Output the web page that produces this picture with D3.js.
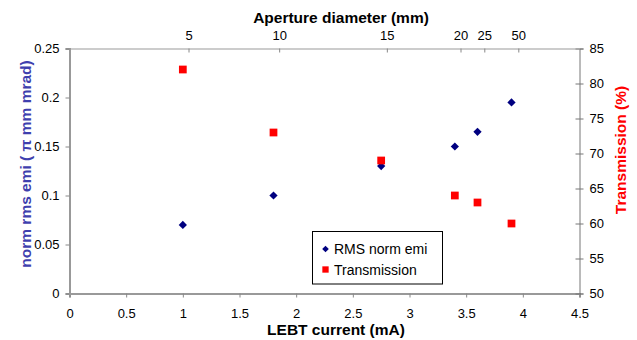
<!DOCTYPE html>
<html>
<head>
<meta charset="utf-8">
<script src="https://cdn.jsdelivr.net/npm/d3@7"></script>
<style>
  body { margin: 0; background: #fff; }
  svg { display: block; font-family: "Liberation Sans", Arial, sans-serif; }
  .tick text { font-size: 13px; fill: #000; }
</style>
</head>
<body>
<svg width="637" height="340"></svg>
<script>
// LEBT current (mA)
const current = [1, 1.8, 2.75, 3.4, 3.6, 3.9]
// norm rms emittance (pi mm mrad)
const emittance = [0.07, 0.1, 0.13, 0.15, 0.165, 0.195]
// transmission (%)
const transmission = [82, 73, 69, 64, 63, 60]
// top axis: aperture diameter labels and where they sit on the current axis
const apertureLabels = ["5", "10", "15", "20", "25", "50"]
const aperturePos = [1.05, 1.85, 2.8, 3.45, 3.66, 3.96]

const xTicks = [0, 0.5, 1, 1.5, 2, 2.5, 3, 3.5, 4, 4.5]
const yTicks = [0, 0.05, 0.1, 0.15, 0.2, 0.25]
const y2Ticks = [50, 55, 60, 65, 70, 75, 80, 85]

const svg = d3.select("svg")
const plotLeft = 69.5, plotRight = 579.5, plotTop = 48.5, plotBottom = 293.5

const x = d3.scaleLinear().domain([0, 4.5]).range([plotLeft, plotRight])
const y = d3.scaleLinear().domain([0, 0.25]).range([plotBottom, plotTop])
const y2 = d3.scaleLinear().domain([50, 85]).range([plotBottom, plotTop])

/* axes */
const gx = svg.append("g")
  .attr("transform", "translate(0," + plotBottom + ")")
  .call(d3.axisBottom(x).tickValues(xTicks).tickFormat(d3.format("")).tickSize(4).tickPadding(11))
gx.select(".domain").attr("stroke", "#999").attr("stroke-width", 2)
gx.selectAll(".tick line").attr("stroke", "#888")

const gy = svg.append("g")
  .attr("transform", "translate(" + plotLeft + ",0)")
  .call(d3.axisLeft(y).tickValues(yTicks).tickFormat(d3.format("")).tickSize(4).tickPadding(6))
gy.select(".domain").attr("stroke", "#999").attr("stroke-width", 2)
gy.selectAll(".tick line").attr("stroke", "#888")

const gy2 = svg.append("g")
  .attr("transform", "translate(" + plotRight + ",0)")
  .call(d3.axisRight(y2).tickValues(y2Ticks).tickSize(4).tickPadding(6))
gy2.select(".domain").attr("stroke", "#777")
gy2.selectAll(".tick line").attr("x1", -4).attr("x2", 4).attr("stroke", "#777")

const gt = svg.append("g")
  .attr("transform", "translate(0," + plotTop + ")")
  .call(d3.axisTop(x).tickValues(aperturePos)
    .tickFormat((d, i) => apertureLabels[i])
    .tickSizeInner(-4).tickSizeOuter(0).tickPadding(9))
gt.select(".domain").attr("stroke", "#999")
gt.selectAll(".tick line").attr("stroke", "#888")

/* titles */
svg.append("text")
  .attr("x", 341).attr("y", 23)
  .attr("text-anchor", "middle")
  .style("font-size", "15.5px").style("font-weight", "bold")
  .text("Aperture diameter (mm)")

svg.append("text")
  .attr("x", 336).attr("y", 335)
  .attr("text-anchor", "middle")
  .style("font-size", "15.5px").style("font-weight", "bold")
  .text("LEBT current (mA)")

svg.append("text")
  .attr("transform", "translate(31,164) rotate(-90)")
  .attr("text-anchor", "middle")
  .style("font-size", "15.5px").style("font-weight", "bold")
  .attr("fill", "#3f3fae")
  .text("norm rms emi ( π mm mrad)")

svg.append("text")
  .attr("transform", "translate(626,150) rotate(-90)")
  .attr("text-anchor", "middle")
  .style("font-size", "15.5px").style("font-weight", "bold")
  .attr("fill", "#ff0000")
  .text("Transmission (%)")

/* markers */
const diamond = d3.symbol().type(d3.symbolSquare).size(34)
const square = d3.symbol().type(d3.symbolSquare).size(60)

svg.append("g").selectAll("path")
  .data(current)
  .join("path")
  .attr("d", diamond)
  .attr("transform", (d, i) => "translate(" + x(d) + "," + y(emittance[i]) + ") rotate(45)")
  .attr("fill", "#000080")

svg.append("g").selectAll("path")
  .data(current)
  .join("path")
  .attr("d", square)
  .attr("transform", (d, i) => "translate(" + x(d) + "," + y2(transmission[i]) + ")")
  .attr("fill", "#ff0000")

/* legend */
const legend = svg.append("g").attr("transform", "translate(312.5,231.5)")
legend.append("rect")
  .attr("width", 130).attr("height", 52.5)
  .attr("fill", "#fff").attr("stroke", "#000")

const legendItems = [
  { label: "RMS norm emi", sym: d3.symbol().type(d3.symbolSquare).size(22), rot: 45, color: "#000080" },
  { label: "Transmission", sym: d3.symbol().type(d3.symbolSquare).size(40), rot: 0, color: "#ff0000" }
]
legendItems.forEach((it, i) => {
  const cy = 17.5 + i * 20.5
  legend.append("path")
    .attr("d", it.sym)
    .attr("transform", "translate(13," + cy + ") rotate(" + it.rot + ")")
    .attr("fill", it.color)
  legend.append("text")
    .attr("x", 21.5).attr("y", cy + 5)
    .style("font-size", "14px")
    .text(it.label)
})
</script>
</body>
</html>
